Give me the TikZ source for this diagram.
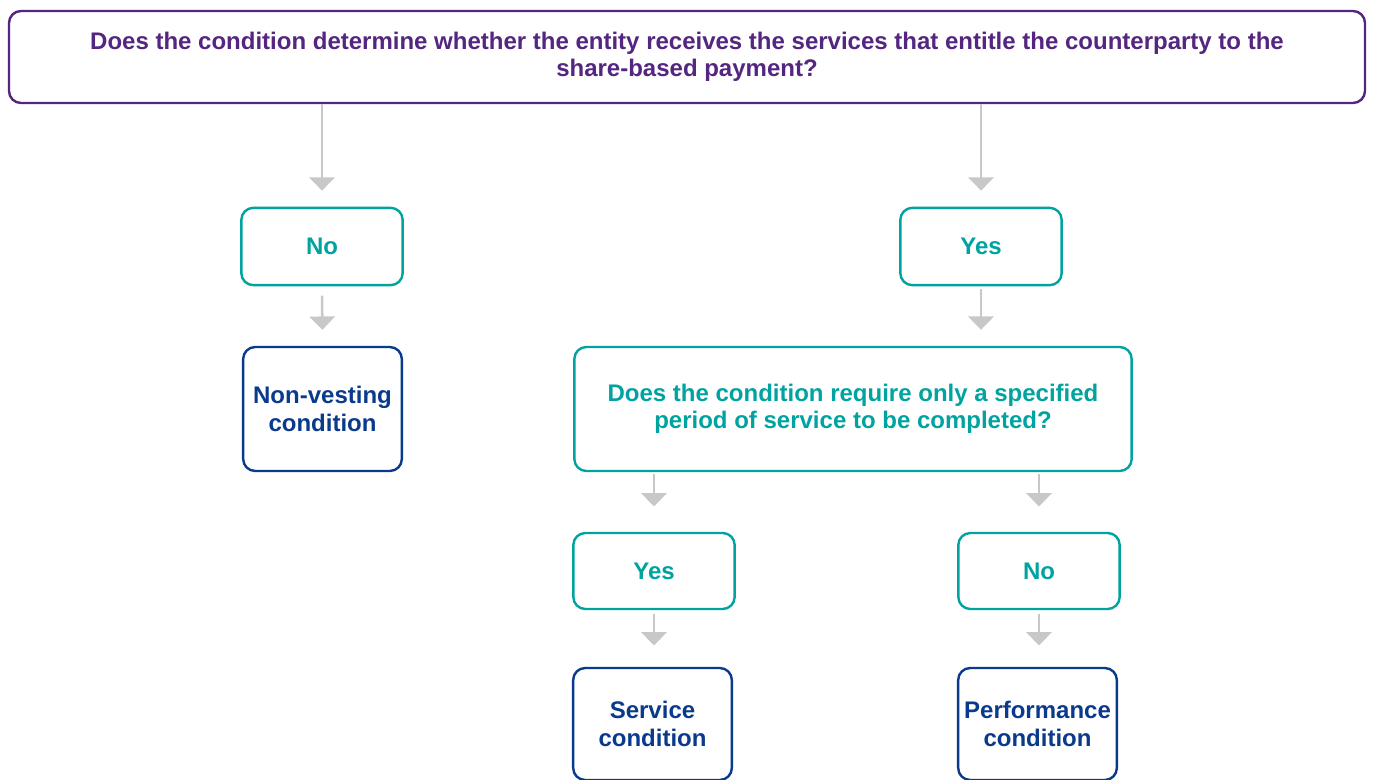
\documentclass[tikz,border=0pt]{standalone}
\usepackage{fontspec}
\setmainfont{Liberation Sans}
\usetikzlibrary{positioning,arrows.meta}
\definecolor{qpurple}{RGB}{84,38,128}
\definecolor{qteal}{RGB}{0,163,160}
\definecolor{qblue}{RGB}{10,58,140}
\definecolor{qgray}{RGB}{200,200,200}
\begin{document}
\begin{tikzpicture}[x=0.75pt, y=-0.75pt,
    box/.style={draw, rounded corners=9pt, line width=1.8pt, fill=white, align=center,
        inner sep=0pt, font=\bfseries\fontsize{18}{20.5}\selectfont},
    question/.style={box, draw=qpurple, text=qpurple},
    answer/.style={box, draw=qteal, text=qteal},
    outcome/.style={box, draw=qblue, text=qblue},
    flow/.style={draw=qgray, line width=1.9pt, -{Triangle[width=19pt, length=10pt]}}]
    \useasboundingbox (0,0) rectangle (1373,780);
    % top question
    \node[question, minimum width=1017pt, minimum height=69pt] (top) at (687,57)
        {Does the condition determine whether the entity receives the services that entitle the counterparty to the\\share-based payment?};
    % first answers
    \node[answer, minimum width=121pt, minimum height=58pt] (nol) at (322,246.5) {No};
    \node[answer, minimum width=121pt, minimum height=58pt] (yesr) at (981,246.5) {Yes};
    \node[outcome, minimum width=119pt, minimum height=93pt] (nonv) at (322.5,409) {Non-vesting\\condition};
    \node[answer, minimum width=418pt, minimum height=93pt] (qserv) at (853,409)
        {Does the condition require only a specified\\period of service to be completed?};
    % second answers
    \node[answer, minimum width=121pt, minimum height=57pt] (yesb) at (654,571) {Yes};
    \node[answer, minimum width=121pt, minimum height=57pt] (nob) at (1039,571) {No};
    \node[outcome, minimum width=119pt, minimum height=84pt] (serv) at (652.5,724) {Service\\condition};
    \node[outcome, minimum width=119pt, minimum height=84pt] (perf) at (1037.5,724) {Performance\\condition};
    % arrows
    \draw[flow, shorten >=12pt] (nol.north |- top.south) -- (nol.north);
    \draw[flow, shorten >=12pt] (yesr.north |- top.south) -- (yesr.north);
    \draw[flow, shorten <=7pt, shorten >=12pt] (nol.south) -- (nonv.north);
    \draw[flow, shorten <=2pt, shorten >=12pt] (yesr.south) -- (yesr.south |- qserv.north);
    \draw[flow, shorten <=1.5pt, shorten >=19pt] (yesb.north |- qserv.south) -- (yesb.north);
    \draw[flow, shorten <=1.5pt, shorten >=19pt] (nob.north |- qserv.south) -- (nob.north);
    \draw[flow, shorten <=3pt, shorten >=16pt] (yesb.south) -- (yesb.south |- serv.north);
    \draw[flow, shorten <=3pt, shorten >=16pt] (nob.south) -- (nob.south |- perf.north);
\end{tikzpicture}
\end{document}
